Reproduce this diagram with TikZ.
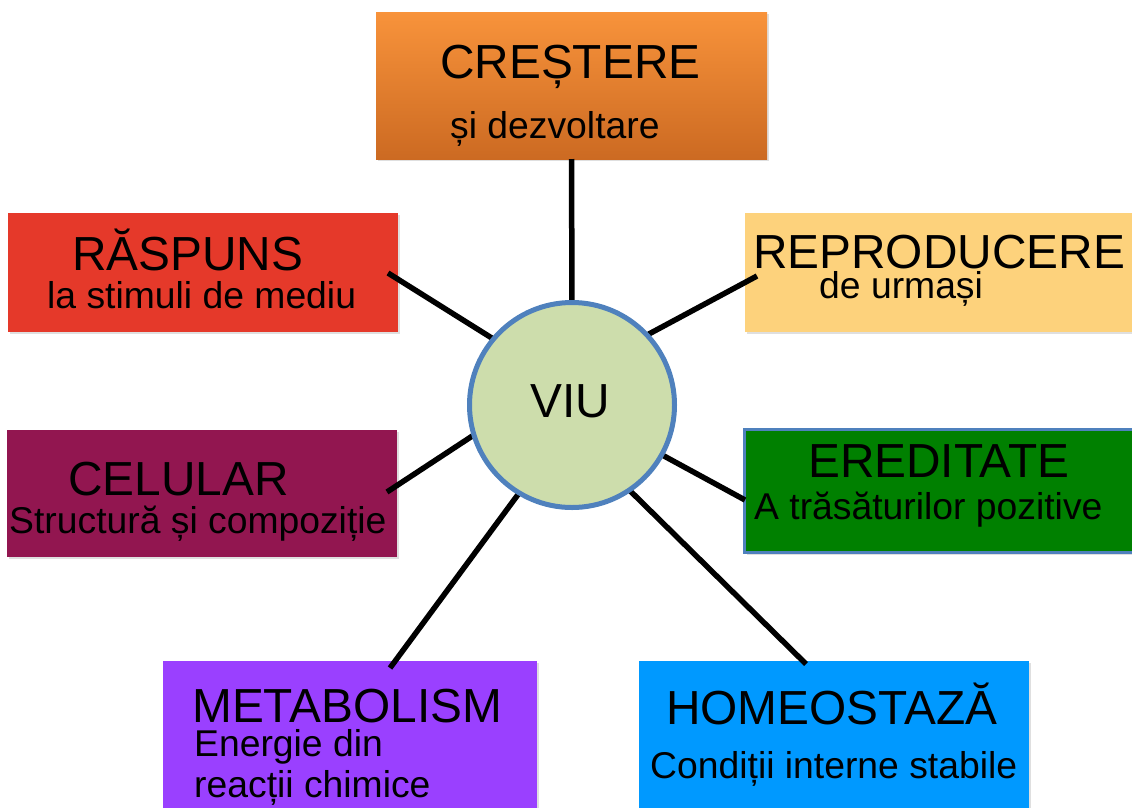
\documentclass[tikz,border=0pt]{standalone}
\usepackage{fontspec}
\setmainfont{Liberation Sans}
\usetikzlibrary{shadows,calc}
\definecolor{orTop}{HTML}{F8933B}
\definecolor{orBot}{HTML}{CC6A22}
\definecolor{redbox}{HTML}{E5392A}
\definecolor{yelbox}{HTML}{FDD27C}
\definecolor{celbox}{HTML}{921650}
\definecolor{grnbox}{HTML}{008000}
\definecolor{purbox}{HTML}{9A40FF}
\definecolor{blubox}{HTML}{0099FF}
\definecolor{viufill}{HTML}{CDDDAC}
\definecolor{viuline}{HTML}{4F81BD}
\tikzset{
  box/.style={rectangle, inner sep=0pt, outer sep=0pt, draw=none,
    drop shadow={opacity=0.25, shadow xshift=2pt, shadow yshift=-2pt}},
  big/.style={inner sep=0pt, anchor=base west, font=\fontsize{47.8}{52}\selectfont},
  small/.style={inner sep=0pt, anchor=base west, font=\fontsize{37.3}{42}\selectfont},
  link/.style={line width=5.5pt, black},
}
\begin{document}
\begin{tikzpicture}[x=1pt,y=-1pt]
\useasboundingbox (0,0) rectangle (1132,807);
% boxes
\node[box, top color=orTop, bottom color=orBot, minimum width=391pt, minimum height=147pt, anchor=north west] (cres) at (376,12) {};
\node[box, fill=redbox, minimum width=390pt, minimum height=119pt, anchor=north west] (resp) at (8,213) {};
\node[box, fill=yelbox, minimum width=392pt, minimum height=119pt, anchor=north west] (repr) at (745,213) {};
\node[box, fill=celbox, minimum width=390pt, minimum height=127pt, anchor=north west] (celu) at (7,430) {};
\node[box, fill=grnbox, draw=viuline, line width=3pt, minimum width=394pt, minimum height=123pt, anchor=north west] (ered) at (744.5,429.5) {};
\node[box, fill=purbox, minimum width=374pt, minimum height=150pt, anchor=north west] (meta) at (163,661) {};
\node[box, fill=blubox, minimum width=390pt, minimum height=150pt, anchor=north west] (home) at (639,661) {};
% texts
\node[big] (t-cres) at (440,78) {CREȘTERE};
\node[small] (s-cres) at (450,138) {și dezvoltare};
\node[big] (t-resp) at (72,270) {RĂSPUNS};
\node[small] (s-resp) at (47,308) {la stimuli de mediu};
\node[big] (t-repr) at (753,268) {REPRODUCERE};
\node[small] (s-repr) at (819,298) {de urmași};
\node[big] (t-celu) at (68,495) {CELULAR};
\node[small] (s-celu) at (9,533) {Structură și compoziție};
\node[big] (t-ered) at (808,477) {EREDITATE};
\node[small] (s-ered) at (754,519) {A trăsăturilor pozitive};
\node[big] (t-meta) at (192,722) {METABOLISM};
\node[small] (s-meta1) at (194,756) {Energie din};
\node[small] (s-meta2) at (194,797) {reacții chimice};
\node[big] (t-home) at (666,724) {HOMEOSTAZĂ};
\node[small] (s-home) at (650,778) {Condiții interne stabile};
% centre
\node[circle, minimum size=205pt, inner sep=0pt] (viu) at (572,405) {};
% connector ends inside boxes
\coordinate (e-resp) at (388,273);
\coordinate (e-repr) at (757,276);
\coordinate (e-celu) at (387,492);
\coordinate (e-ered) at (745,500);
\coordinate (e-meta) at (390,668);
\coordinate (e-home) at (806,664);
% connectors
\draw[link] (cres.south) -- (viu.90);
\draw[link] (e-resp) -- (viu.140);
\draw[link] (e-repr) -- (viu.43);
\draw[link] (e-celu) -- (viu.197);
\draw[link] (e-ered) -- (viu.331);
\draw[link] (e-meta) -- (viu.239);
\draw[link] (e-home) -- (viu.304);
% circle drawn on top
\node[circle, minimum size=205pt, inner sep=0pt, fill=viufill, draw=viuline, line width=5pt] (viu-disc) at (viu) {};
\node[big] (t-viu) at (530,417) {VIU};
\end{tikzpicture}
\end{document}
